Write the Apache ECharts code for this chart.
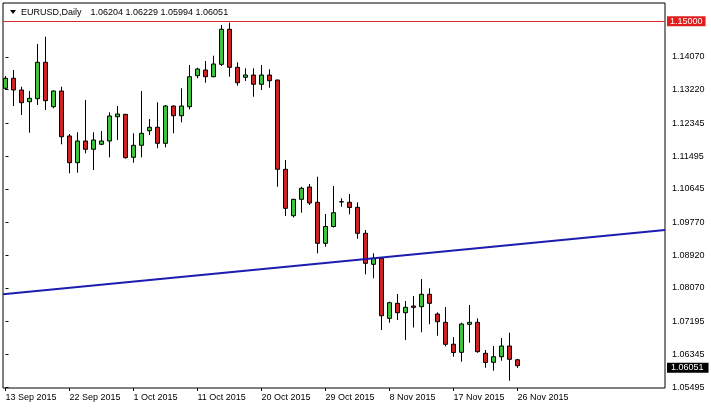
<!DOCTYPE html>
<html>
<head>
<meta charset="utf-8">
<script src="https://cdn.jsdelivr.net/npm/echarts@6/dist/echarts.min.js"></script>
<style>
html,body{margin:0;padding:0;background:#fff;}
#chart{width:711px;height:410px;}
</style>
</head>
<body>
<div id="chart"></div>
<script>
// ---- data ----
const symbolName = 'EURUSD,Daily';
const dates = [
 '13 Sep 2015','14 Sep 2015','15 Sep 2015','16 Sep 2015','17 Sep 2015','18 Sep 2015',
 '20 Sep 2015','21 Sep 2015','22 Sep 2015','23 Sep 2015','24 Sep 2015','25 Sep 2015',
 '27 Sep 2015','28 Sep 2015','29 Sep 2015','30 Sep 2015','1 Oct 2015','2 Oct 2015',
 '4 Oct 2015','5 Oct 2015','6 Oct 2015','7 Oct 2015','8 Oct 2015','9 Oct 2015',
 '11 Oct 2015','12 Oct 2015','13 Oct 2015','14 Oct 2015','15 Oct 2015','16 Oct 2015',
 '18 Oct 2015','19 Oct 2015','20 Oct 2015','21 Oct 2015','22 Oct 2015','23 Oct 2015',
 '25 Oct 2015','26 Oct 2015','27 Oct 2015','28 Oct 2015','29 Oct 2015','30 Oct 2015',
 '1 Nov 2015','2 Nov 2015','3 Nov 2015','4 Nov 2015','5 Nov 2015','6 Nov 2015',
 '8 Nov 2015','9 Nov 2015','10 Nov 2015','11 Nov 2015','12 Nov 2015','13 Nov 2015',
 '15 Nov 2015','16 Nov 2015','17 Nov 2015','18 Nov 2015','19 Nov 2015','20 Nov 2015',
 '22 Nov 2015','23 Nov 2015','24 Nov 2015','25 Nov 2015','26 Nov 2015'
];
const opens = [
 1.13257,1.13517,1.13213,1.12909,1.12987,1.13932,1.12779,1.13187,1.12018,1.11324,
 1.11888,1.11672,1.11802,1.11888,1.12519,1.12581,1.11464,1.11776,1.12155,1.12244,
 1.11828,1.12797,1.12545,1.12779,1.13584,1.13732,1.13558,1.13880,1.14790,1.13802,
 1.13543,1.13602,1.13361,1.13602,1.13472,1.11152,1.09947,1.10373,1.10693,1.10295,
 1.09230,1.09666,1.10311,1.10295,1.10165,1.09490,1.08684,1.08840,1.07281,1.07671,
 1.07427,1.07601,1.07583,1.07905,1.07393,1.07177,1.06608,1.06398,1.07126,1.07177,
 1.06372,1.06138,1.06284,1.06562,1.06204
];
const closes = [
 1.13517,1.13213,1.12883,1.12997,1.13932,1.12935,1.13187,1.11999,1.11324,1.11888,
 1.11672,1.11914,1.11888,1.12537,1.12589,1.11454,1.11776,1.12088,1.12244,1.11828,
 1.12797,1.12545,1.12797,1.13558,1.13758,1.13558,1.13888,1.14790,1.13802,1.13402,
 1.13602,1.13361,1.13602,1.13454,1.11152,1.10139,1.10373,1.10659,1.10277,1.09230,
 1.09666,1.10025,1.10305,1.10160,1.09490,1.08710,1.08840,1.07349,1.07687,1.07427,
 1.07567,1.07567,1.07905,1.07671,1.07193,1.06606,1.06393,1.07133,1.07177,1.06414,
 1.06133,1.06284,1.06562,1.06216,1.06051
];
const lows = [
 1.13213,1.12797,1.12563,1.12103,1.12823,1.12693,1.12737,1.11802,1.11049,1.11064,
 1.11568,1.11134,1.11780,1.11464,1.11914,1.11430,1.11324,1.11464,1.12044,1.11698,
 1.11724,1.12088,1.12374,1.12711,1.13517,1.13402,1.13543,1.13836,1.13558,1.13324,
 1.13446,1.13039,1.13213,1.13272,1.10700,1.09939,1.09900,1.10025,1.10225,1.08970,
 1.09142,1.09640,1.10181,1.09983,1.09349,1.08425,1.08321,1.06977,1.07167,1.07237,
 1.06718,1.07042,1.06918,1.07126,1.06829,1.06554,1.06284,1.06154,1.06647,1.06388,
 1.05998,1.05920,1.06180,1.05660,1.05994
];
const highs = [
 1.13576,1.13732,1.13298,1.13187,1.14408,1.14597,1.13200,1.13298,1.12070,1.12114,
 1.12953,1.12114,1.12147,1.12633,1.12797,1.12589,1.12088,1.13187,1.12459,1.12893,
 1.12823,1.12810,1.13257,1.13862,1.13792,1.13966,1.14104,1.14901,1.14961,1.13932,
 1.13776,1.13776,1.13862,1.13750,1.13480,1.11394,1.10380,1.10700,1.10771,1.10960,
 1.09991,1.10719,1.10399,1.10511,1.10295,1.09575,1.08970,1.08866,1.07713,1.07913,
 1.07731,1.07861,1.08302,1.08061,1.07437,1.07575,1.06796,1.07167,1.07627,1.07281,
 1.06458,1.06562,1.06770,1.06907,1.06229
];
const priceTicks = [1.14070,1.13220,1.12345,1.11495,1.10645,1.09770,1.08920,1.08070,1.07195,1.06345,1.05495];
const dateTickIdx = [0,8,16,24,32,40,48,56,64];
const resistanceLevel = 1.15000;
const lastPrice = 1.06051;
const trendPrices = [1.07905, 1.09575];

// ---- view ----
const FONT = 'Liberation Sans';
const X_MIN = -0.3125, X_MAX = 82.4375;
const Y_MIN = 1.05471, Y_MAX = 1.15473;
const n = opens.length;
const candleData = opens.map((o, i) => [i, o, closes[i], lows[i], highs[i]]);
const headerValues = [opens[n-1], highs[n-1], lows[n-1], closes[n-1]].map(v => v.toFixed(5)).join(' ');

const chart = echarts.init(document.getElementById('chart'), null, {renderer: 'canvas'});
chart.setOption({
  animation: false,
  backgroundColor: '#ffffff',
  grid: {left: 3, top: 3, right: 46, bottom: 22, show: true, borderColor: '#000', borderWidth: 1, backgroundColor: '#fff'},
  xAxis: {
    type: 'value', min: X_MIN, max: X_MAX,
    splitLine: {show: false}, axisLine: {show: false},
    axisTick: {show: true, customValues: dateTickIdx, length: 3, lineStyle: {color: '#000'}},
    axisLabel: {customValues: dateTickIdx, formatter: v => dates[Math.round(v)] || '', align: 'left',
      margin: 5, fontFamily: FONT, fontSize: 9, color: '#000'}
  },
  yAxis: {
    type: 'value', position: 'right', min: Y_MIN, max: Y_MAX,
    splitLine: {show: false}, axisLine: {show: false},
    axisTick: {show: true, customValues: priceTicks, length: 3, lineStyle: {color: '#000'}},
    axisLabel: {customValues: priceTicks, formatter: v => v.toFixed(5), margin: 7,
      fontFamily: FONT, fontSize: 9, color: '#000'}
  },
  series: [
    {
      type: 'candlestick',
      data: candleData,
      barWidth: 4,
      itemStyle: {color: '#3cc43c', color0: '#cc2222', borderColor: '#000', borderColor0: '#000', borderWidth: 1},
      markLine: {
        symbol: 'none', silent: true, animation: false,
        data: [
          {yAxis: resistanceLevel, lineStyle: {color: '#d42a2a', width: 1, type: 'solid'},
           label: {show: true, position: 'end', distance: 2, formatter: () => resistanceLevel.toFixed(5),
             color: '#fff', backgroundColor: '#e01c1c', padding: [1, 3, 0, 3], fontFamily: FONT, fontSize: 9}},
          {yAxis: lastPrice, lineStyle: {color: 'rgba(0,0,0,0)', width: 0, type: 'solid'},
           label: {show: true, position: 'end', distance: 2, formatter: () => lastPrice.toFixed(5),
             color: '#fff', backgroundColor: '#000', padding: [1, 5, 0, 4], fontFamily: FONT, fontSize: 9}}
        ]
      }
    },
    {
      type: 'line',
      data: [[X_MIN, trendPrices[0]], [X_MAX, trendPrices[1]]],
      symbol: 'none', silent: true,
      lineStyle: {color: '#1c1cb0', width: 2},
      z: 3
    }
  ],
  graphic: [
    {type: 'polygon', shape: {points: [[10, 10], [16, 10], [13, 14]]}, style: {fill: '#000'}},
    {type: 'text', x: 21, y: 13, style: {text: symbolName, fontFamily: FONT, fontSize: 9, fill: '#000', verticalAlign: 'middle'}},
    {type: 'text', x: 90.5, y: 13, style: {text: headerValues, fontFamily: FONT, fontSize: 9, fill: '#000', verticalAlign: 'middle'}}
  ]
});
</script>
</body>
</html>
